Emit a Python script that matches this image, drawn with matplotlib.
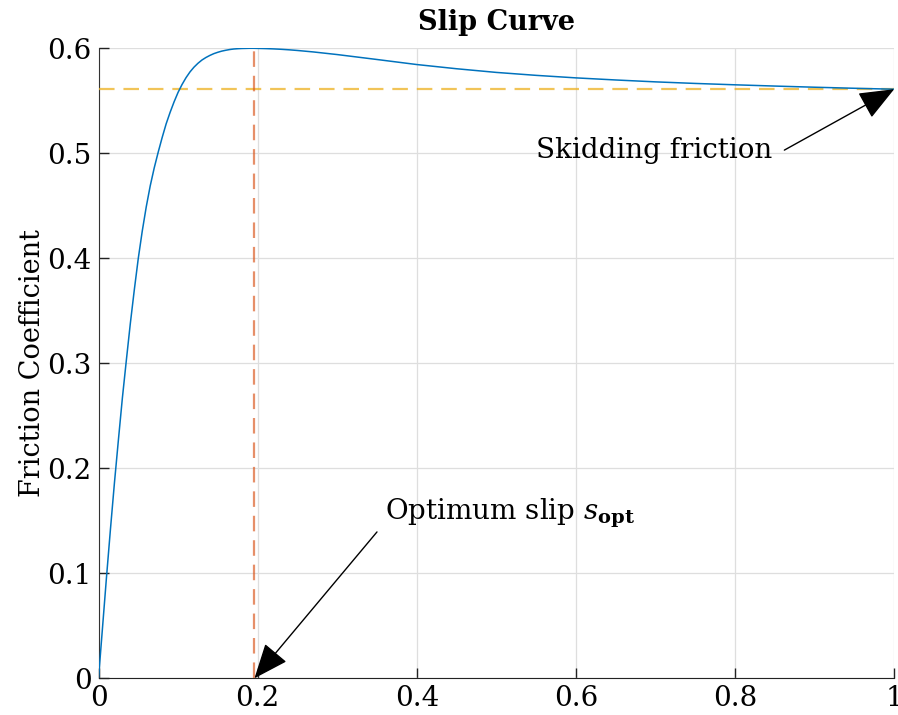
import matplotlib
matplotlib.use("Agg")
import matplotlib.pyplot as plt

plt.rcParams.update({
    "font.family": "serif",
    "font.serif": ["DejaVu Serif"],
    "mathtext.fontset": "dejavuserif",
    "font.size": 20,
})

# slip ratio vs. friction coefficient
slip = [0, 0.005, 0.01, 0.015, 0.02, 0.025, 0.03, 0.035, 0.04, 0.045,
        0.05, 0.055, 0.06, 0.065, 0.07, 0.075, 0.08, 0.085, 0.09, 0.095,
        0.10, 0.105, 0.11, 0.115, 0.12, 0.125, 0.13, 0.135, 0.14, 0.145,
        0.15, 0.155, 0.16, 0.165, 0.17, 0.175, 0.18, 0.185, 0.19, 0.195,
        0.20, 0.21, 0.22, 0.23, 0.24, 0.25, 0.27, 0.30, 0.35, 0.40,
        0.45, 0.50, 0.55, 0.60, 0.65, 0.70, 0.75, 0.80, 0.85, 0.90,
        0.95, 1.0]
mu = [0, 0.048, 0.096, 0.142, 0.186, 0.227, 0.267, 0.303, 0.338, 0.370,
      0.400, 0.426, 0.449, 0.469, 0.486, 0.501, 0.515, 0.528, 0.539, 0.549,
      0.558, 0.5655, 0.5720, 0.5775, 0.5820, 0.5857, 0.5888, 0.5912, 0.5932, 0.5949,
      0.5962, 0.5973, 0.5981, 0.5988, 0.5993, 0.5996, 0.5998, 0.5999, 0.6000, 0.6000,
      0.5999, 0.5997, 0.5994, 0.5990, 0.5985, 0.5979, 0.5965, 0.5940, 0.5893, 0.5845,
      0.5805, 0.5770, 0.5742, 0.5718, 0.5698, 0.5680, 0.5665, 0.5652, 0.5640, 0.5629,
      0.5619, 0.5610]

s_opt = 0.196
mu_skid = 0.561

xticks = [0, 0.2, 0.4, 0.6, 0.8, 1]
xtick_labels = ["0", "0.2", "0.4", "0.6", "0.8", "1"]
yticks = [0, 0.1, 0.2, 0.3, 0.4, 0.5, 0.6]
ytick_labels = ["0", "0.1", "0.2", "0.3", "0.4", "0.5", "0.6"]

fig = plt.figure(figsize=(8.98, 7.15), dpi=100)
ax = fig.add_axes([0.1097, 0.0513, 0.8860, 0.8812])

ax.plot(slip, mu, color="#0072BD", lw=1.1, zorder=4)
ax.axhline(mu_skid, color="#EDB120", alpha=0.75, lw=1.6,
           dashes=(7, 4), zorder=3)
ax.axvline(s_opt, color="#D95319", alpha=0.65, lw=1.6,
           dashes=(7, 4), zorder=3)

ax.set_xlim(0, 1)
ax.set_ylim(0, 0.6)
ax.set_xticks(xticks)
ax.set_xticklabels(xtick_labels)
ax.set_yticks(yticks)
ax.set_yticklabels(ytick_labels)
ax.grid(True, color="#dedede", lw=0.9, zorder=0)
ax.set_axisbelow(True)
for side in ("top", "right"):
    ax.spines[side].set_visible(False)
ax.spines["left"].set_color("#333333")
ax.spines["bottom"].set_color("#222222")
ax.tick_params(direction="in", length=7, width=1.0, colors="#222222",
               labelcolor="black", pad=5)
ax.tick_params(axis="x", pad=5)

ax.set_title("Slip Curve", fontsize=19.5, fontweight="bold", pad=13)
ax.set_ylabel("Friction Coefficient", fontsize=19.5, labelpad=1)

arrow = dict(arrowstyle="-|>,head_length=1.1,head_width=0.45",
             color="black", lw=1.0, shrinkA=0, shrinkB=0)
ax.annotate("", xy=(1.0, mu_skid), xytext=(0.862, 0.503),
            arrowprops=arrow, annotation_clip=False, zorder=6)
ax.text(0.847, 0.503, "Skidding friction", ha="right", va="center",
        fontsize=20)

ax.annotate("", xy=(s_opt, 0.0), xytext=(0.350, 0.1394),
            arrowprops=arrow, annotation_clip=False, zorder=6)
ax.text(0.360, 0.157, r"Optimum slip $s_{\mathbf{opt}}$", ha="left",
        va="center", fontsize=20)

fig.savefig("out.png", dpi=100)
